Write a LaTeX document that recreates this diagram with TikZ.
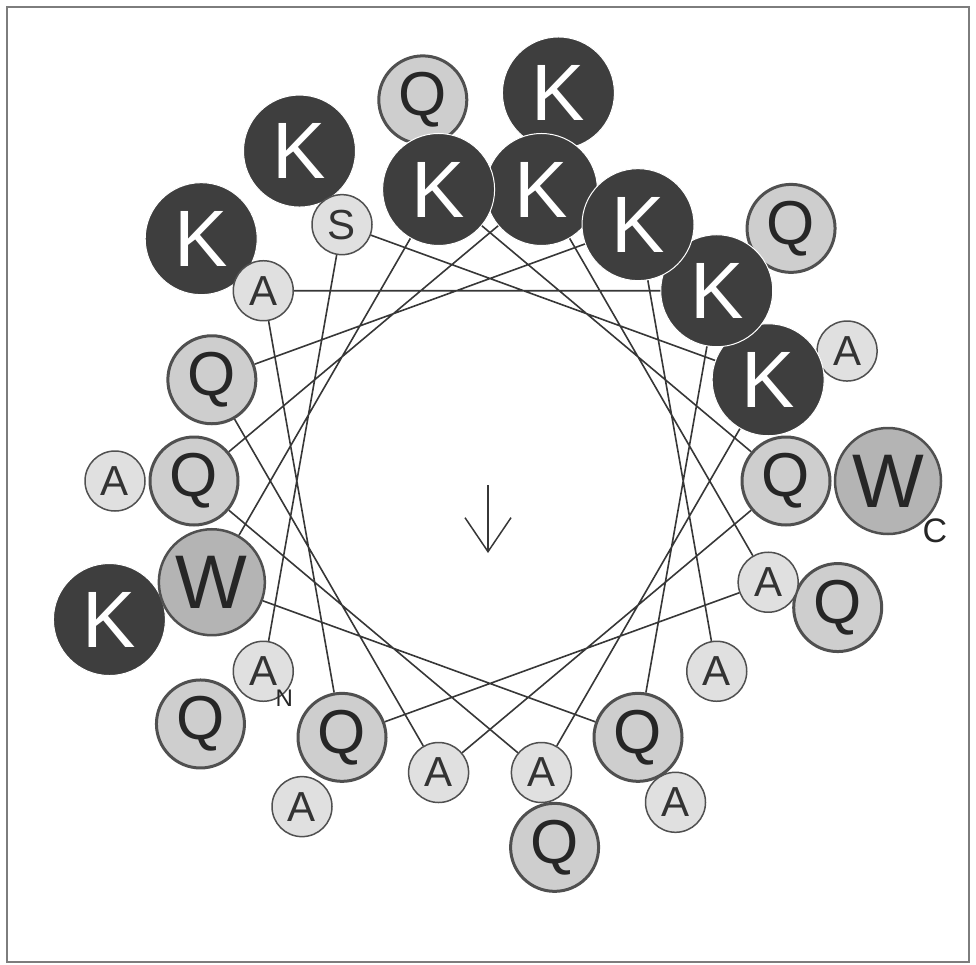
\documentclass[tikz,border=0pt]{standalone}
\usepackage{fontspec}
\setmainfont{Liberation Sans}
\usepackage{tikz}
\usetikzlibrary{arrows.meta}
\definecolor{lysfonce}{RGB}{62,62,62}
\definecolor{trpmoyen}{RGB}{180,180,180}
\definecolor{glnclair}{RGB}{206,206,206}
\definecolor{alaclair}{RGB}{224,224,224}
\definecolor{bordgris}{RGB}{80,80,80}
\definecolor{trait}{RGB}{55,55,55}
\definecolor{cadre}{RGB}{125,125,125}

\begin{document}
\begin{tikzpicture}[x=1pt,y=1pt,
  lys/.style={circle, fill=lysfonce, draw=white, line width=1pt,
              minimum size=112pt, inner sep=0pt, text=white,
              font=\fontsize{80}{80}\selectfont},
  trp/.style={circle, fill=trpmoyen, draw=bordgris, line width=2.5pt,
              minimum size=106pt, inner sep=0pt, text=black!85,
              font=\fontsize{76}{76}\selectfont},
  gln/.style={circle, fill=glnclair, draw=bordgris, line width=3pt,
              minimum size=88pt, inner sep=0pt, text=black!85,
              font=\fontsize{62}{62}\selectfont},
  ala/.style={circle, fill=alaclair, draw=bordgris, line width=1.5pt,
              minimum size=60pt, inner sep=0pt, text=black!80,
              font=\fontsize{42}{42}\selectfont},
  liaison/.style={trait, line width=1.6pt}]

  % Cadre de la figure
  \useasboundingbox (0,0) rectangle (976,-965);
  \draw[cadre, line width=2pt] (7,-7) rectangle (969,-962);

  \begin{scope}[shift={(490,-481)}]
    \coordinate (centre) at (0,0);

    % Deuxieme tour (residus 19 a 32), en retrait
    \node[gln] (res19) at (220:378) {Q};
    \node[lys] (res20) at (120:381) {K};
    \node[ala] (res21) at (20:380) {A};
    \node[gln] (res22) at (280:372) {Q};
    \node[ala] (res23) at (180:375) {A};
    \node[lys] (res24) at (80:394) {K};
    \node[gln] (res25) at (340:370) {Q};
    \node[ala] (res26) at (240:376) {A};
    \node[lys] (res27) at (140:377) {K};
    \node[gln] (res28) at (40:393) {Q};
    \node[ala] (res29) at (300:371) {A};
    \node[lys] (res30) at (200:405) {K};
    \node[gln] (res31) at (100:387) {Q};
    \node[trp] (res32) at (0:398) {W};

    % Premier tour (residus 1 a 18), pas de 100 degres
    \node[ala] (res1) at (220:296) {A};
    \node[ala] (res2) at (120:296) {S};
    \node[lys] (res3) at (20:296) {K};
    \node[ala] (res4) at (280:296) {A};
    \node[gln] (res5) at (180:296) {Q};
    \node[lys] (res6) at (80:296) {K};
    \node[ala] (res7) at (340:296) {A};
    \node[gln] (res8) at (240:296) {Q};
    \node[ala] (res9) at (140:296) {A};
    \node[lys] (res10) at (40:296) {K};
    \node[gln] (res11) at (300:296) {Q};
    \node[trp] (res12) at (200:296) {W};
    \node[lys] (res13) at (100:296) {K};
    \node[gln] (res14) at (0:296) {Q};
    \node[ala] (res15) at (260:296) {A};
    \node[gln] (res16) at (160:296) {Q};
    \node[lys] (res17) at (60:296) {K};
    \node[ala] (res18) at (320:296) {A};

    % Liaisons entre residus successifs
    \draw[liaison] (res1) -- (res2) -- (res3) -- (res4) -- (res5) -- (res6)
      -- (res7) -- (res8) -- (res9) -- (res10) -- (res11) -- (res12)
      -- (res13) -- (res14) -- (res15) -- (res16) -- (res17) -- (res18);

    % Extremites N et C
    \node[text=black!85, font=\fontsize{24}{24}\selectfont]
      (nterm) at ([xshift=21pt,yshift=-27pt]res1.center) {N};
    \node[text=black!85, font=\fontsize{34}{34}\selectfont]
      (cterm) at ([xshift=47pt,yshift=-50pt]res32.center) {C};

    % Moment hydrophobe
    \draw[trait, line width=1.5pt, -{Straight Barb[length=34pt,width=46pt]}]
      ([xshift=-2pt,yshift=-4pt]centre) -- ([xshift=-2pt,yshift=-72pt]centre);
  \end{scope}
\end{tikzpicture}
\end{document}
